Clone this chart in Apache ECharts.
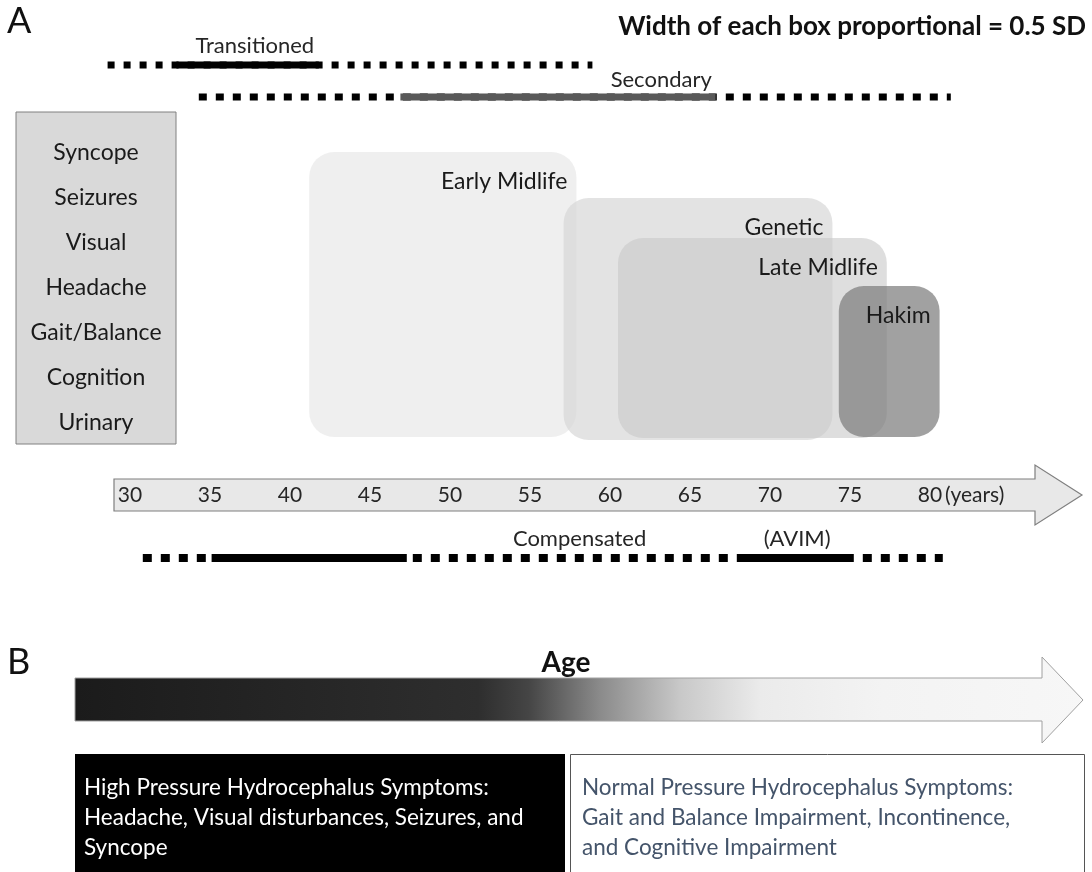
<!DOCTYPE html>
<html><head><meta charset="utf-8">
<script src="https://cdn.jsdelivr.net/npm/echarts@6/dist/echarts.min.js"></script>
<style>html,body{margin:0;padding:0;background:#fff}#c{width:1092px;height:872px}</style>
</head><body><div id="c"></div>
<script>
// ---- data (ages) ----
const ageTicks = [30, 35, 40, 45, 50, 55, 60, 65, 70, 75, 80];
const boxNames = ['Early Midlife', 'Genetic', 'Late Midlife', 'Hakim'];
const boxStart = [41.2, 57.1, 60.5, 74.3];
const boxEnd   = [57.9, 73.9, 77.3, 80.6];
const lineNames = ['Transitioned', 'Secondary', 'Compensated'];
const lineDashStart = [28.6, 34.3, 30.8];
const lineDashEnd   = [58.9, 81.3, 80.8];
const lineSolid = [[[32.9, 41.8]], [[46.9, 66.6]], [[35.1, 47.3], [68.4, 74.9]]];
const lineLabelTexts = [['Transitioned'], ['Secondary'], ['Compensated', '(AVIM)']];
const symptoms = ['Syncope', 'Seizures', 'Visual', 'Headache', 'Gait/Balance', 'Cognition', 'Urinary'];
const highText = ['High Pressure Hydrocephalus Symptoms:', 'Headache, Visual disturbances, Seizures, and', 'Syncope'];
const normalText = ['Normal Pressure Hydrocephalus Symptoms:', 'Gait and Balance Impairment, Incontinence,', 'and Cognitive Impairment'];

// ---- layout / style (not data) ----
const FONT = 'Lato, "Open Sans", sans-serif';
const boxLayout = {
  top: [152, 198, 238, 286], bottom: [437, 440, 438, 437],
  fill: ['rgba(225,225,225,0.55)', 'rgba(215,215,215,0.7)', 'rgba(200,200,200,0.6)', 'rgba(125,125,125,0.72)']
};
const lineLayout = {
  y: [65, 97, 558], labelY: [46, 80, 539],
  labelAge: [[37.8], [63.2], [58.1, 71.7]],
  solidColor: ['#000', '#595959', '#000'],
  dash: [[7, 9], [8, 9], [9, 9]], width: [7, 7, 8]
};
const tickY = 495;

const chart = echarts.init(document.getElementById('c'), null, {renderer: 'canvas'});

function boxItem(params, api) {
  const i = params.dataIndex;
  const p0 = api.coord([api.value(0), boxLayout.top[i]]);
  const p1 = api.coord([api.value(1), boxLayout.bottom[i]]);
  return {
    type: 'group',
    children: [
      {type: 'rect', shape: {x: p0[0], y: p0[1], width: p1[0] - p0[0], height: p1[1] - p0[1], r: 25},
        style: {fill: boxLayout.fill[i], stroke: null}},
      {type: 'text', style: {x: p1[0] - 9, y: p0[1] + 30, text: boxNames[i], align: 'right', verticalAlign: 'middle',
        font: '23px ' + FONT, fill: '#1a1a1a'}}
    ]
  };
}

function lineItem(params, api) {
  const i = params.dataIndex;
  const y = lineLayout.y[i];
  const a = api.coord([api.value(0), y]);
  const b = api.coord([api.value(1), y]);
  const children = [
    {type: 'line', shape: {x1: a[0], y1: y, x2: b[0], y2: y},
      style: {stroke: '#000', lineWidth: lineLayout.width[i], lineDash: lineLayout.dash[i], lineCap: 'butt'}}
  ];
  lineSolid[i].forEach(function (seg) {
    const s = api.coord([seg[0], y]), e = api.coord([seg[1], y]);
    children.push({type: 'line', shape: {x1: s[0], y1: y, x2: e[0], y2: y},
      style: {stroke: lineLayout.solidColor[i], lineWidth: lineLayout.width[i], lineCap: 'butt'}});
  });
  lineLabelTexts[i].forEach(function (t, k) {
    const p = api.coord([lineLayout.labelAge[i][k], lineLayout.labelY[i]]);
    children.push({type: 'text', style: {x: p[0], y: p[1], text: t, align: 'center', verticalAlign: 'middle',
      font: '22px ' + FONT, fill: '#262626'}});
  });
  return {type: 'group', children: children};
}

function tickItem(params, api) {
  const p = api.coord([api.value(0), tickY]);
  const children = [{type: 'text', style: {x: p[0], y: p[1], text: String(api.value(0)), align: 'center',
    verticalAlign: 'middle', font: '21px ' + FONT, fill: '#262626'}}];
  if (params.dataIndex === ageTicks.length - 1) {
    children.push({type: 'text', style: {x: p[0] + 15, y: p[1], text: '(years)', align: 'left',
      verticalAlign: 'middle', font: '21px ' + FONT, fill: '#262626'}});
  }
  return {type: 'group', children: children};
}

const graphics = [];
// panel letters & title
graphics.push({type: 'text', left: 7, top: 3, style: {text: 'A', font: '36px ' + FONT, fill: '#111'}});
graphics.push({type: 'text', left: 7, top: 644, style: {text: 'B', font: '36px ' + FONT, fill: '#111'}});
graphics.push({type: 'text', style: {x: 1086, y: 27, text: 'Width of each box proportional = 0.5 SD', align: 'right',
  verticalAlign: 'middle', font: 'bold 26px ' + FONT, fill: '#111'}});
// symptom box
graphics.push({type: 'rect', z: 1, shape: {x: 16, y: 112, width: 160, height: 332},
  style: {fill: '#d9d9d9', stroke: '#808080', lineWidth: 1}});
symptoms.forEach(function (s, k) {
  graphics.push({type: 'text', z: 2, style: {x: 96, y: 153 + k * 45, text: s, align: 'center', verticalAlign: 'middle',
    font: '23px ' + FONT, fill: '#1a1a1a'}});
});
// axis arrow A
graphics.push({type: 'polygon', z: 0, shape: {points: [[114, 479], [1035, 479], [1035, 465], [1082, 495], [1035, 525], [1035, 511], [114, 511]]},
  style: {fill: '#e8e8e8', stroke: '#7f7f7f', lineWidth: 1.2}});
// gradient arrow B
graphics.push({type: 'polygon', shape: {points: [[75, 678], [1042, 678], [1042, 657], [1083, 700], [1042, 743], [1042, 721], [75, 721]]},
  style: {
    fill: new echarts.graphic.LinearGradient(0, 0, 1, 0, [
      {offset: 0, color: '#1b1b1b'}, {offset: 0.4, color: '#2e2e2e'}, {offset: 0.45, color: '#454545'},
      {offset: 0.52, color: '#8a8a8a'}, {offset: 0.6, color: '#c8c8c8'}, {offset: 0.68, color: '#ebebeb'},
      {offset: 0.8, color: '#f3f3f3'}, {offset: 1, color: '#f7f7f7'}]),
    stroke: '#a0a0a0', lineWidth: 1}});
graphics.push({type: 'text', style: {x: 566, y: 663, text: 'Age', align: 'center', verticalAlign: 'middle',
  font: 'bold 28px ' + FONT, fill: '#111'}});
// bottom boxes
graphics.push({type: 'rect', shape: {x: 75, y: 754, width: 490, height: 130}, style: {fill: '#000'}});
graphics.push({type: 'rect', shape: {x: 570.5, y: 754.5, width: 514, height: 130}, style: {fill: '#fff', stroke: '#555', lineWidth: 1}});
highText.forEach(function (t, k) {
  graphics.push({type: 'text', style: {x: 84, y: 788 + k * 30, text: t, verticalAlign: 'middle', font: '22.5px ' + FONT, fill: '#fff'}});
});
normalText.forEach(function (t, k) {
  graphics.push({type: 'text', style: {x: 582, y: 788 + k * 30, text: t, verticalAlign: 'middle', font: '22.5px ' + FONT, fill: '#44546a'}});
});

chart.setOption({
  animation: false,
  backgroundColor: '#fff',
  grid: {left: 130, right: 162, top: 0, bottom: 0},
  xAxis: {type: 'value', min: 30, max: 80, show: false},
  yAxis: {type: 'value', min: 0, max: 872, inverse: true, show: false},
  graphic: graphics,
  series: [
    {type: 'custom', name: 'boxes', renderItem: boxItem, clip: false, z: 3,
      encode: {x: [0, 1]}, data: boxNames.map(function (n, i) { return [boxStart[i], boxEnd[i]]; })},
    {type: 'custom', name: 'lines', renderItem: lineItem, clip: false, z: 3,
      encode: {x: [0, 1]}, data: lineNames.map(function (n, i) { return [lineDashStart[i], lineDashEnd[i]]; })},
    {type: 'custom', name: 'ticks', renderItem: tickItem, clip: false, z: 4,
      encode: {x: 0}, data: ageTicks.map(function (t) { return [t]; })}
  ]
});
</script></body></html>
